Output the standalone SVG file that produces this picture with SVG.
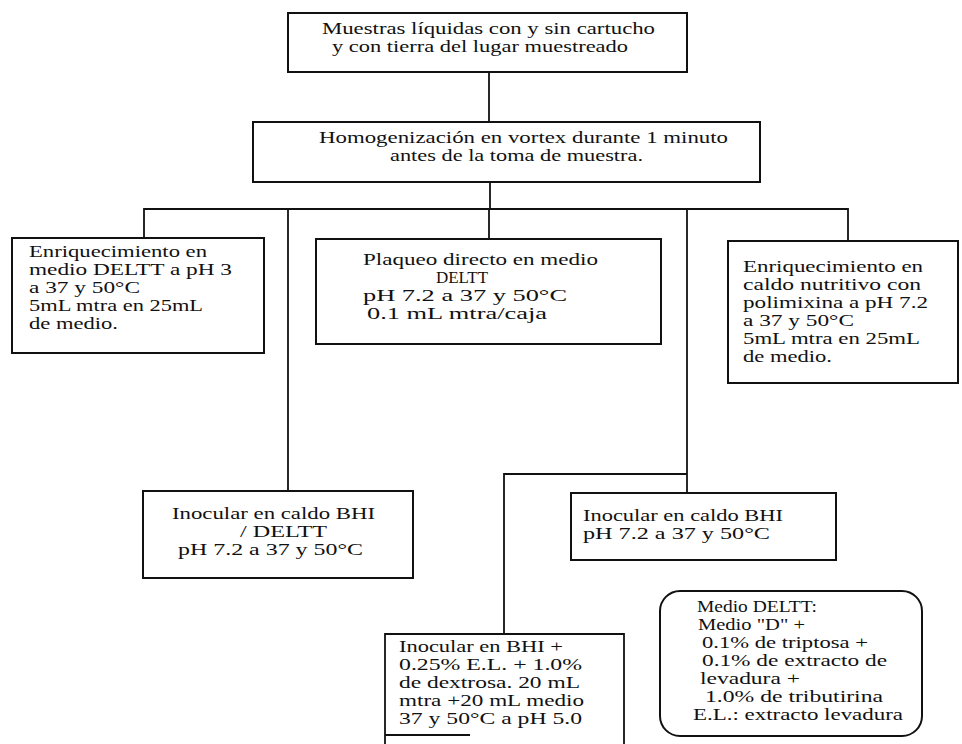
<svg xmlns="http://www.w3.org/2000/svg" width="962" height="744" viewBox="0 0 962 744">
<style>
.t{font-family:"Liberation Serif","Times New Roman",serif;font-size:16px;fill:#111}
.b{fill:#fff;stroke:#111;stroke-width:2}
.c{fill:none;stroke:#111;stroke-width:1.8}
</style>
<rect width="962" height="744" fill="#fff"/>
<g id="connectors">
<path class="c" d="M489,72V122"/>
<path class="c" d="M490,182V209"/>
<path class="c" d="M144,238V209H848V241"/>
<path class="c" d="M288,209V491"/>
<path class="c" d="M489,209V239"/>
<path class="c" d="M687,209V493"/>
<path class="c" d="M687,474H504V634"/>
</g>
<g id="n_muestras">
<rect class="b" x="288" y="13" width="399" height="59"/>
<text class="t" x="322" y="34" textLength="333" lengthAdjust="spacingAndGlyphs">Muestras líquidas con y sin cartucho</text>
<text class="t" x="332" y="52" textLength="296" lengthAdjust="spacingAndGlyphs">y con tierra del lugar muestreado</text>
</g>
<g id="n_homog">
<rect class="b" x="253" y="122" width="507" height="60"/>
<text class="t" x="319" y="143" textLength="409" lengthAdjust="spacingAndGlyphs">Homogenización en vortex durante 1 minuto</text>
<text class="t" x="390" y="161" textLength="253" lengthAdjust="spacingAndGlyphs">antes de la toma de muestra.</text>
</g>
<g id="n_enriq_delt">
<rect class="b" x="12" y="238" width="252" height="115"/>
<text class="t" x="29" y="257" textLength="178" lengthAdjust="spacingAndGlyphs">Enriquecimiento en</text>
<text class="t" x="29" y="275" textLength="203" lengthAdjust="spacingAndGlyphs">medio DELTT a pH 3</text>
<text class="t" x="29" y="293" textLength="111" lengthAdjust="spacingAndGlyphs">a 37 y 50°C</text>
<text class="t" x="29" y="311" textLength="174" lengthAdjust="spacingAndGlyphs">5mL mtra en 25mL</text>
<text class="t" x="29" y="329" textLength="89" lengthAdjust="spacingAndGlyphs">de medio.</text>
</g>
<g id="n_plaqueo">
<rect class="b" x="316" y="239" width="345" height="105"/>
<text class="t" x="363" y="265" textLength="235" lengthAdjust="spacingAndGlyphs">Plaqueo directo en medio</text>
<text class="t" x="436" y="283" textLength="52" lengthAdjust="spacingAndGlyphs">DELTT</text>
<text class="t" x="363" y="301" textLength="204" lengthAdjust="spacingAndGlyphs">pH 7.2 a 37 y 50°C</text>
<text class="t" x="367" y="319" textLength="180" lengthAdjust="spacingAndGlyphs">0.1 mL mtra/caja</text>
</g>
<g id="n_enriq_caldo">
<rect class="b" x="728" y="241" width="230" height="142"/>
<text class="t" x="743" y="272" textLength="180" lengthAdjust="spacingAndGlyphs">Enriquecimiento en</text>
<text class="t" x="743" y="290" textLength="178" lengthAdjust="spacingAndGlyphs">caldo nutritivo con</text>
<text class="t" x="743" y="308" textLength="185" lengthAdjust="spacingAndGlyphs">polimixina a pH 7.2</text>
<text class="t" x="743" y="326" textLength="111" lengthAdjust="spacingAndGlyphs">a 37 y 50°C</text>
<text class="t" x="743" y="344" textLength="177" lengthAdjust="spacingAndGlyphs">5mL mtra en 25mL</text>
<text class="t" x="743" y="362" textLength="89" lengthAdjust="spacingAndGlyphs">de medio.</text>
</g>
<g id="n_bhi_delt">
<rect class="b" x="143" y="491" width="270" height="87"/>
<text class="t" x="172" y="519" textLength="203" lengthAdjust="spacingAndGlyphs">Inocular en caldo BHI</text>
<text class="t" x="240" y="537" textLength="87" lengthAdjust="spacingAndGlyphs">/ DELTT</text>
<text class="t" x="178" y="555" textLength="185" lengthAdjust="spacingAndGlyphs">pH 7.2 a 37 y 50°C</text>
</g>
<g id="n_bhi">
<rect class="b" x="571" y="493" width="265" height="67"/>
<text class="t" x="583" y="521" textLength="200" lengthAdjust="spacingAndGlyphs">Inocular en caldo BHI</text>
<text class="t" x="583" y="539" textLength="187" lengthAdjust="spacingAndGlyphs">pH 7.2 a 37 y 50°C</text>
</g>
<g id="n_bhi_el">
<path class="c" d="M385,744V634H624V744M385,735H470" stroke-width="2"/>
<text class="t" x="399" y="652" textLength="164" lengthAdjust="spacingAndGlyphs">Inocular en BHI +</text>
<text class="t" x="399" y="670" textLength="183" lengthAdjust="spacingAndGlyphs">0.25% E.L. + 1.0%</text>
<text class="t" x="399" y="688" textLength="181" lengthAdjust="spacingAndGlyphs">de dextrosa. 20 mL</text>
<text class="t" x="399" y="706" textLength="185" lengthAdjust="spacingAndGlyphs">mtra +20 mL medio</text>
<text class="t" x="399" y="724" textLength="183" lengthAdjust="spacingAndGlyphs">37 y 50°C a pH 5.0</text>
</g>
<g id="n_medio_deltt">
<rect class="b" x="660" y="591" width="262" height="145" rx="20" ry="20"/>
<text class="t" x="697" y="612" textLength="120" lengthAdjust="spacingAndGlyphs">Medio DELTT:</text>
<text class="t" x="698" y="630" textLength="107" lengthAdjust="spacingAndGlyphs">Medio "D" +</text>
<text class="t" x="702" y="648" textLength="166" lengthAdjust="spacingAndGlyphs">0.1% de triptosa +</text>
<text class="t" x="702" y="666" textLength="185" lengthAdjust="spacingAndGlyphs">0.1% de extracto de</text>
<text class="t" x="700" y="684" textLength="100" lengthAdjust="spacingAndGlyphs">levadura +</text>
<text class="t" x="705" y="702" textLength="178" lengthAdjust="spacingAndGlyphs">1.0% de tributirina</text>
<text class="t" x="693" y="720" textLength="210" lengthAdjust="spacingAndGlyphs">E.L.: extracto levadura</text>
</g>
</svg>
